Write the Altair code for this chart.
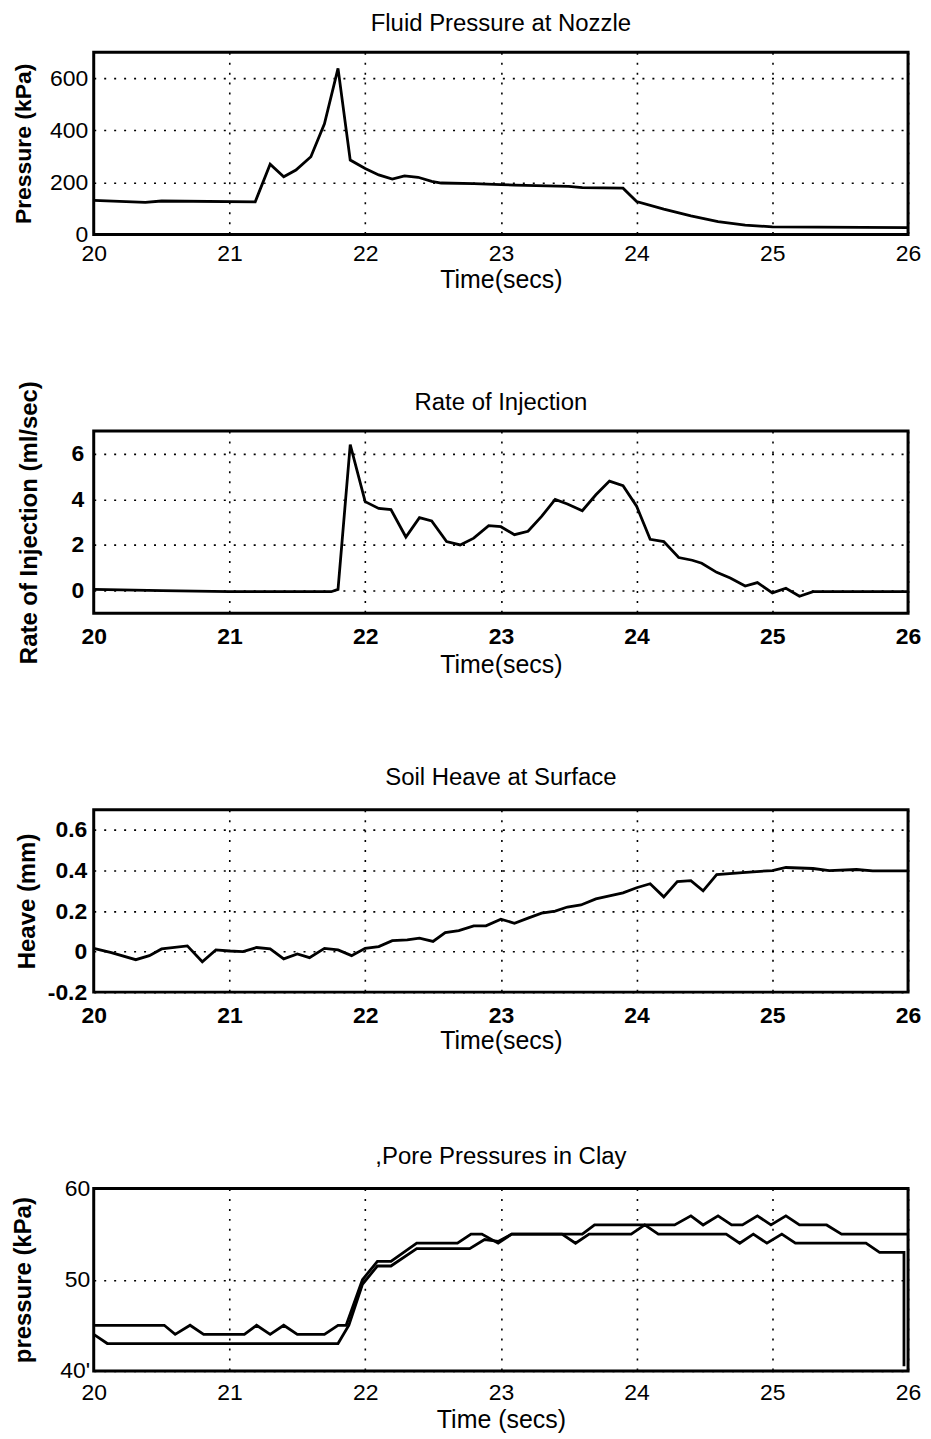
import altair as alt
import pandas as pd

# ---------------- data ----------------
# Panel 1: Fluid Pressure at Nozzle (kPa)
press_t = [20.0, 20.38, 20.5, 21.19, 21.3, 21.4, 21.49, 21.6, 21.7, 21.8, 21.89, 22.0, 22.1,
           22.2, 22.29, 22.39, 22.49, 22.56, 22.8, 23.0, 23.1, 23.5, 23.6, 23.9, 24.0, 24.2,
           24.4, 24.6, 24.8, 25.0, 26.0]
press_v = [131, 124, 129, 126, 270, 222, 248, 299, 425, 638, 286, 254, 229,
           213, 225, 220, 204, 198, 196, 192, 190, 185, 180, 178, 127, 98,
           72, 50, 36, 30, 27]

# Panel 2: Rate of Injection (ml/sec)
rate_t = [20.0, 20.5, 21.0, 21.75, 21.8, 21.89, 22.0, 22.1, 22.19, 22.3, 22.4, 22.49, 22.6,
          22.7, 22.8, 22.91, 23.0, 23.1, 23.2, 23.3, 23.4, 23.49, 23.6, 23.7, 23.8, 23.9,
          24.0, 24.1, 24.2, 24.31, 24.41, 24.48, 24.59, 24.69, 24.8, 24.89, 25.0, 25.1,
          25.2, 25.3, 26.0]
rate_v = [0.05, 0.0, -0.05, -0.05, 0.05, 6.4, 3.9, 3.6, 3.55, 2.35, 3.2, 3.05, 2.15,
          2.0, 2.3, 2.85, 2.8, 2.45, 2.6, 3.25, 4.0, 3.8, 3.5, 4.2, 4.8, 4.6,
          3.7, 2.25, 2.15, 1.45, 1.33, 1.2, 0.8, 0.55, 0.2, 0.35, -0.1, 0.1,
          -0.25, -0.05, -0.05]

# Panel 3: Soil Heave at Surface (mm)
heave_t = [20.0, 20.13, 20.31, 20.41, 20.5, 20.69, 20.8, 20.9, 21.0, 21.1, 21.2, 21.3, 21.4,
           21.5, 21.59, 21.7, 21.8, 21.9, 22.0, 22.1, 22.2, 22.31, 22.4, 22.5, 22.59, 22.69,
           22.8, 22.89, 23.0, 23.1, 23.2, 23.3, 23.4, 23.49, 23.59, 23.7, 23.8, 23.9, 24.0,
           24.1, 24.2, 24.3, 24.4, 24.49, 24.59, 24.78, 25.0, 25.1, 25.3, 25.42, 25.62,
           25.74, 26.0]
heave_v = [0.016, -0.005, -0.04, -0.02, 0.013, 0.028, -0.05, 0.008, 0.003, 0.0, 0.02, 0.013,
           -0.036, -0.012, -0.03, 0.016, 0.008, -0.02, 0.016, 0.025, 0.054, 0.058, 0.066, 0.05,
           0.094, 0.104, 0.127, 0.127, 0.16, 0.14, 0.165, 0.19, 0.2, 0.22, 0.23, 0.26, 0.275,
           0.29, 0.315, 0.335, 0.27, 0.345, 0.35, 0.3, 0.38, 0.39, 0.4, 0.415, 0.41, 0.4,
           0.405, 0.398, 0.398]

# Panel 4: Pore Pressures in Clay (kPa), two transducers
poreA_t = [20.0, 20.52, 20.6, 20.71, 20.81, 21.11, 21.2, 21.3, 21.4, 21.5, 21.7, 21.8, 21.86,
           21.98, 22.09, 22.19, 22.38, 22.68, 22.78, 22.86, 22.98, 23.08, 23.6, 23.69, 24.28,
           24.4, 24.49, 24.6, 24.7, 24.78, 24.89, 24.99, 25.1, 25.2, 25.4, 25.51, 26.0]
poreA_v = [45, 45, 44, 45, 44, 44, 45, 44, 45, 44, 44, 45, 45,
           50, 52, 52, 54, 54, 55, 55, 54, 55, 55, 56, 56,
           57, 56, 57, 56, 56, 57, 56, 57, 56, 56, 55, 55]
poreB_t = [20.0, 20.1, 21.8, 21.88, 21.98, 22.09, 22.19, 22.38, 22.77, 22.88, 22.98, 23.08,
           23.45, 23.55, 23.65, 23.96, 24.06, 24.16, 24.66, 24.76, 24.86, 24.96, 25.07, 25.17,
           25.69, 25.79, 25.97, 25.97]
poreB_v = [44, 43, 43, 45, 49.5, 51.5, 51.5, 53.4, 53.4, 54.4, 54.2, 55,
           55, 54, 55, 55, 56, 55, 55, 54, 55, 54, 55, 54,
           54, 53, 53, 40.5]

# ---------------- styling helpers ----------------
FONT = "Liberation Sans"
W, H = 817, 183
X_TICKS = [20, 21, 22, 23, 24, 25, 26]
FRAME = alt.ViewBackground(stroke="black", strokeWidth=3, fill="white")


def x_enc(title, bold=False, title_y=36, label_pad=8):
    return alt.X(
        "t:Q",
        scale=alt.Scale(domain=[20, 26], nice=False, zero=False),
        axis=alt.Axis(
            values=X_TICKS, title=title, grid=True, ticks=False, domain=False,
            labelFlush=False, labelFont=FONT, labelFontSize=23,
            labelFontWeight="bold" if bold else "normal", labelColor="black",
            labelPadding=label_pad,
            titleFont=FONT, titleFontSize=25, titleFontWeight="normal", titleColor="black",
            titleY=title_y, titleBaseline="top",
            gridColor="black", gridDash=[2, 8], gridWidth=1.6, gridOpacity=1,
        ),
    )


def y_enc(title, domain, values, title_x, title_size=24, bold_labels=False,
          label_pad=6, label_expr=None):
    kw = {}
    if label_expr is not None:
        kw["labelExpr"] = label_expr
    return alt.Y(
        "v:Q",
        scale=alt.Scale(domain=domain, nice=False, zero=False),
        axis=alt.Axis(
            values=values, title=title, grid=True, ticks=False, domain=False,
            labelFlush=False, labelFont=FONT, labelFontSize=23,
            labelFontWeight="bold" if bold_labels else "normal", labelColor="black",
            labelPadding=label_pad,
            titleFont=FONT, titleFontSize=title_size, titleFontWeight="bold",
            titleColor="black", titleX=title_x,
            gridColor="black", gridDash=[2, 8], gridWidth=1.6, gridOpacity=1,
            **kw,
        ),
    )


def ttl(text, offset):
    return alt.TitleParams(text, font=FONT, fontSize=24, fontWeight="normal",
                           color="black", anchor="middle", baseline="bottom", offset=offset)


df1 = pd.DataFrame({"t": press_t, "v": press_v})
df2 = pd.DataFrame({"t": rate_t, "v": rate_v})
df3 = pd.DataFrame({"t": heave_t, "v": heave_v})
df4 = pd.concat([
    pd.DataFrame({"t": poreA_t, "v": poreA_v, "s": "A", "i": range(len(poreA_t))}),
    pd.DataFrame({"t": poreB_t, "v": poreB_v, "s": "B", "i": range(len(poreB_t))}),
])

LINE = dict(color="black", strokeWidth=2.8, clip=True)

c1 = alt.Chart(df1, title=ttl("Fluid Pressure at Nozzle", -8)).mark_line(**LINE).encode(
    x=x_enc("Time(secs)", title_y=33, label_pad=8),
    y=y_enc("Pressure (kPa)", [0, 700], [0, 200, 400, 600], title_x=-58, title_size=23),
).properties(width=W, height=H, view=FRAME)

c2 = alt.Chart(df2, title=ttl("Rate of Injection", -58)).mark_line(**LINE).encode(
    x=x_enc("Time(secs)", bold=True, title_y=39, label_pad=12),
    y=y_enc("Rate of Injection (ml/sec)", [-1, 7], [0, 2, 4, 6], title_x=-52,
            title_size=24, bold_labels=True, label_pad=10),
).properties(width=W, height=H, view=FRAME)

c3 = alt.Chart(df3, title=ttl("Soil Heave at Surface", -4)).mark_line(**LINE).encode(
    x=x_enc("Time(secs)", bold=True, title_y=37, label_pad=12),
    y=y_enc("Heave (mm)", [-0.2, 0.7], [-0.2, 0, 0.2, 0.4, 0.6], title_x=-54,
            bold_labels=True, label_pad=7, label_expr="'' + datum.value"),
).properties(width=W, height=H, view=FRAME)

c4 = alt.Chart(df4, title=ttl(",Pore Pressures in Clay", -15)).mark_line(**LINE).encode(
    x=x_enc("Time (secs)", title_y=37, label_pad=11),
    y=y_enc("pressure (kPa)", [40, 60], [40, 50, 60], title_x=-58, label_pad=4,
            label_expr="datum.value == 40 ? \"40'\" : datum.label"),
    detail="s:N",
    order="i:Q",
).properties(width=W, height=H, view=FRAME)

chart = alt.vconcat(c1, c2, c3, c4, spacing=197, bounds="flush").properties(
    padding={"left": 2, "top": 0, "right": 0, "bottom": 5},
    background="white",
)

chart.save("out.html", embed_options={"renderer": "svg", "actions": False})
